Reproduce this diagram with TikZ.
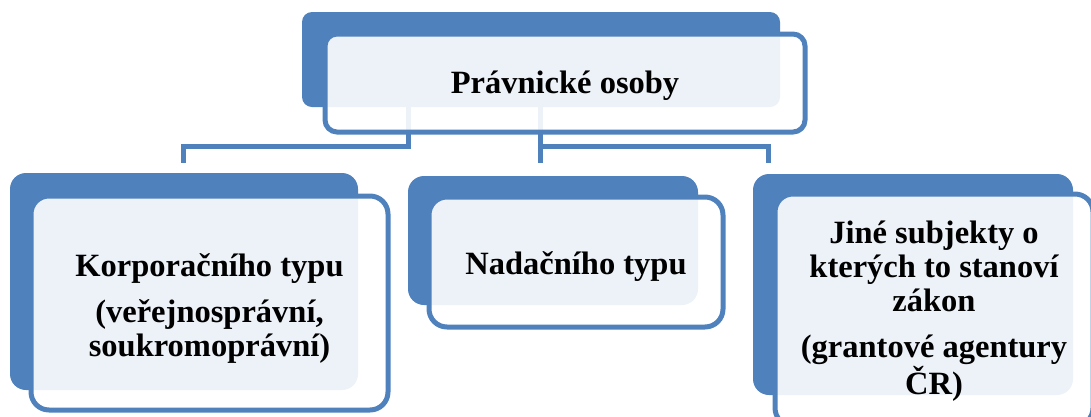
\documentclass[tikz,border=0pt]{standalone}
\usepackage{fontspec}
\setmainfont{Liberation Serif}
\usepackage{tikz}
\definecolor{smblue}{HTML}{4F81BD}
\tikzset{
  backbox/.style={fill=smblue, inner sep=0pt},
  frontbox/.style={draw=smblue, line width=5pt, fill=white, fill opacity=0.9, inner sep=0pt},
  txt/.style={inner sep=0pt, align=center, font=\bfseries\fontsize{32.5}{34}\selectfont},
  conn/.style={draw=smblue, line width=5pt}
}

\begin{document}
\begin{tikzpicture}[x=1pt,y=1pt,yscale=-1,xscale=1]
\clip (0,0) rectangle (1091,416); %picture is 1091 wide and 416 high

%Shape: back boxes
\node [backbox, rounded corners=10pt, minimum width=478pt, minimum height=95pt] (pb) at (541,59.5) {};
\node [backbox, rounded corners=16pt, minimum width=348pt, minimum height=217pt] (kb) at (184,281.5) {};
\node [backbox, rounded corners=16pt, minimum width=290pt, minimum height=129pt] (nb) at (553,240.5) {};
\node [backbox, rounded corners=16pt, minimum width=320pt, minimum height=221pt] (jb) at (913,284.5) {};

% Connectors
\coordinate (s1) at (408,107);
\coordinate (s2) at (540,107);
\coordinate (e1) at (183,163);
\coordinate (e2) at (540,163);
\coordinate (e3) at (768,163);
\draw [conn] (s1) -- ++(0,39) -| (e1);
\draw [conn] (s2) -- (e2);
\draw [conn] (s2) -- ++(0,39) -| (e3);

%Shape: front boxes
\node [frontbox, rounded corners=12pt, minimum width=480pt, minimum height=98pt] (pf) at (565,83) {};
\node [frontbox, rounded corners=18pt, minimum width=357pt, minimum height=214pt] (kf) at (209.5,303) {};
\node [frontbox, rounded corners=18pt, minimum width=294pt, minimum height=130pt] (nf) at (576,262) {};
\node [frontbox, rounded corners=18pt, minimum width=318pt, minimum height=232pt] (jf) at (934,310) {};

% Text Node
\node [txt] (pt) at ([yshift=3pt]pf.center) {Právnické osoby};
% Text Node
\node [txt] (kt) at ([yshift=5pt]kf.center) {Korporačního typu\\[12pt](veřejnosprávní,\\soukromoprávní)};
% Text Node
\node [txt] (nt) at ([yshift=5pt]nf.center) {Nadačního typu};
% Text Node
\node [txt] (jt) at ([yshift=1pt]jf.center) {Jiné subjekty o\\kterých to stanoví\\zákon\\[12pt](grantové agentury\\ČR)};

\end{tikzpicture}
\end{document}
